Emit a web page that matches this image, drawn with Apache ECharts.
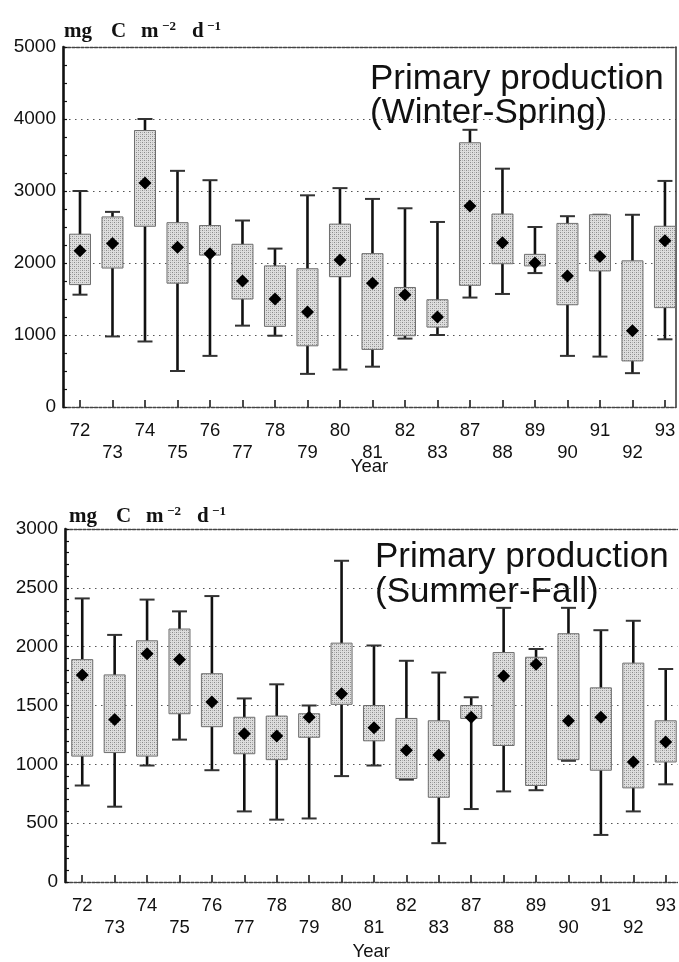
<!DOCTYPE html>
<html>
<head>
<meta charset="utf-8">
<title>Primary production</title>
<script src="https://cdn.jsdelivr.net/npm/echarts@6.0.0/dist/echarts.min.js"></script>
<style>
  html, body { margin: 0; padding: 0; background: #fff; }
  #chart { width: 679px; height: 962px; }
</style>
</head>
<body>
<div id="chart"></div>
<script>
// years on the category axis (1984-86 missing in the record)
const years = ['72', '73', '74', '75', '76', '77', '78', '79', '80', '81', '82', '83', '87', '88', '89', '90', '91', '92', '93'];

// Winter-Spring, mg C m-2 d-1
const wsMin  = [1560,  980,  910,  500,  710, 1130,  990,  460,  520,  560,  950, 1000, 1520, 1570, 1860,  710,  700,  470,  940];
const wsQ1   = [1700, 1930, 2510, 1720, 2110, 1500, 1120,  850, 1810,  800,  990, 1110, 1690, 1990, 1960, 1420, 1890,  640, 1380];
const wsMean = [2170, 2270, 3110, 2220, 2130, 1750, 1500, 1320, 2040, 1720, 1560, 1250, 2790, 2280, 2000, 1820, 2090, 1060, 2310];
const wsQ3   = [2400, 2640, 3840, 2560, 2520, 2260, 1960, 1920, 2540, 2130, 1660, 1490, 3670, 2680, 2120, 2550, 2670, 2030, 2510];
const wsMax  = [3000, 2710, 4000, 3280, 3150, 2590, 2200, 2940, 3040, 2890, 2760, 2570, 3850, 3310, 2500, 2650, 2670, 2670, 3140];

// Summer-Fall, mg C m-2 d-1
const sfMin  = [ 820,  640,  990, 1210,  950,  600,  530,  540,  900,  990,  870,  330,  620,  770,  780, 1030,  400,  600,  830];
const sfQ1   = [1070, 1100, 1070, 1430, 1320, 1090, 1040, 1230, 1510, 1200,  880,  720, 1390, 1160,  820, 1040,  950,  800, 1020];
const sfMean = [1760, 1380, 1940, 1890, 1530, 1260, 1240, 1400, 1600, 1310, 1120, 1080, 1400, 1750, 1850, 1370, 1400, 1020, 1190];
const sfQ3   = [1890, 1760, 2050, 2150, 1770, 1400, 1410, 1430, 2030, 1500, 1390, 1370, 1500, 1950, 1910, 2110, 1650, 1860, 1370];
const sfMax  = [2410, 2100, 2400, 2300, 2430, 1560, 1680, 1500, 2730, 2010, 1880, 1780, 1570, 2330, 1980, 2330, 2140, 2220, 1810];

const yearTicks = years.map((_, i) => i);

const INK = '#111';
const SANS = '"Liberation Sans", Arial, sans-serif';
const SERIF = '"Liberation Serif", "Times New Roman", serif';

// light dotted fill, like the screened boxes of the print
function stipple() {
  const c = document.createElement('canvas');
  c.width = 4; c.height = 4;
  const ctx = c.getContext('2d');
  ctx.fillStyle = '#dedede';
  ctx.fillRect(0, 0, 4, 4);
  ctx.fillStyle = '#8a8a8a';
  ctx.fillRect(0, 0, 1, 1);
  ctx.fillRect(2, 2, 1, 1);
  ctx.fillStyle = '#b4b4b4';
  ctx.fillRect(2, 0, 1, 1);
  ctx.fillRect(0, 2, 1, 1);
  return { image: c, repeat: 'repeat' };
}
const boxFill = stipple();

function boxRows(mins, q1s, means, q3s, maxs) {
  return years.map((_, i) => [i, mins[i], q1s[i], means[i], q3s[i], maxs[i]]);
}

function renderBox(params, api) {
  const x = api.value(0);
  const lo = api.coord([x, api.value(1)]);
  const q1 = api.coord([x, api.value(2)]);
  const mean = api.coord([x, api.value(3)]);
  const q3 = api.coord([x, api.value(4)]);
  const hi = api.coord([x, api.value(5)]);
  const cx = lo[0];
  const halfBox = 10.5, halfCap = 7.5, d = 6.5;
  const capStyle = { stroke: '#333', lineWidth: 2 };
  return {
    type: 'group',
    children: [
      { type: 'line', shape: { x1: cx, y1: lo[1], x2: cx, y2: hi[1] }, style: { stroke: INK, lineWidth: 2.6 } },
      { type: 'line', shape: { x1: cx - halfCap, y1: lo[1], x2: cx + halfCap, y2: lo[1] }, style: capStyle },
      { type: 'line', shape: { x1: cx - halfCap, y1: hi[1], x2: cx + halfCap, y2: hi[1] }, style: capStyle },
      {
        type: 'rect',
        shape: { x: cx - halfBox, y: q3[1], width: halfBox * 2, height: q1[1] - q3[1] },
        style: { fill: boxFill, stroke: '#6e6e6e', lineWidth: 1 }
      },
      {
        type: 'polygon',
        shape: { points: [[cx, mean[1] - d], [cx + d, mean[1]], [cx, mean[1] + d], [cx - d, mean[1]]] },
        style: { fill: '#000' }
      }
    ]
  };
}

function yearLabel(value) {
  const i = Math.round(value);
  return i % 2 ? '\n' + years[i] : years[i];
}

function bottomAxis(gridIndex, min, max, nameGap) {
  return {
    type: 'value', gridIndex, min, max,
    axisLine: { onZero: false, lineStyle: { color: '#444', width: 1.4, type: [3, 1.5] } },
    axisTick: { inside: true, length: 7, customValues: yearTicks, lineStyle: { color: INK, width: 1.5 } },
    axisLabel: {
      customValues: yearTicks, margin: 13, color: INK, fontFamily: SANS, fontSize: 18.5, lineHeight: 22,
      formatter: yearLabel
    },
    splitLine: { show: false },
    name: 'Year', nameLocation: 'middle', nameGap, nameMoveOverlap: false,
    nameTextStyle: { color: INK, fontFamily: SANS, fontSize: 18.5 }
  };
}

function topBorder(gridIndex, min, max) {
  return {
    type: 'value', gridIndex, min, max, position: 'top',
    axisLine: { onZero: false, lineStyle: { color: '#444', width: 1.4, type: [3, 1.5] } },
    axisTick: { show: false }, axisLabel: { show: false }, splitLine: { show: false }
  };
}

function valueAxis(gridIndex, max, interval, minorSplit) {
  return {
    type: 'value', gridIndex, min: 0, max, interval,
    axisLine: { show: true, onZero: false, lineStyle: { color: INK, width: 2.6 } },
    axisTick: { show: true, inside: true, length: 4, lineStyle: { color: INK, width: 1.2 } },
    minorTick: { show: true, splitNumber: minorSplit, length: 4, lineStyle: { color: INK, width: 1.2 } },
    axisLabel: { margin: 7, color: INK, fontFamily: SANS, fontSize: 19, formatter: v => String(v) },
    splitLine: { show: true, lineStyle: { color: '#555', width: 1.2, type: [1.5, 4.5] } }
  };
}

const unitText = '{a|mg}{b|C}{c|m}{s|\u22122}{d|d}{t|\u22121}';
function unitRich() {
  const base = { fontFamily: SERIF, fontWeight: 'bold', fontSize: 21, color: INK, lineHeight: 24 };
  const sup = { fontFamily: SERIF, fontWeight: 'bold', fontSize: 13, color: INK, lineHeight: 13, verticalAlign: 'top' };
  return {
    a: { ...base, width: 47 },
    b: { ...base, width: 30 },
    c: { ...base, width: 21 },
    s: { ...sup, width: 30 },
    d: { ...base, width: 15 },
    t: { ...sup }
  };
}

const chart = echarts.init(document.getElementById('chart'), null, { renderer: 'canvas' });
chart.setOption({
  animation: false,
  backgroundColor: '#fff',
  title: [
    { left: 59, top: 15, text: unitText, textStyle: { rich: unitRich() } },
    { left: 64, top: 500, text: unitText, textStyle: { rich: unitRich() } },
    {
      left: 365, top: 57, text: 'Primary production\n(Winter-Spring)',
      textStyle: { fontFamily: SANS, fontWeight: 'normal', fontSize: 35, lineHeight: 34, color: INK }
    },
    {
      left: 370, top: 535, text: 'Primary production\n(Summer-Fall)',
      textStyle: { fontFamily: SANS, fontWeight: 'normal', fontSize: 35, lineHeight: 35, color: INK }
    }
  ],
  grid: [
    { left: 63, top: 47, width: 613, height: 360 },
    { left: 65, top: 529, width: 614, height: 360 }
  ],
  xAxis: [
    bottomAxis(0, -0.523, 18.34, 50),
    topBorder(0, -0.523, 18.34),
    bottomAxis(1, -0.532, 18.36, 60),
    topBorder(1, -0.532, 18.36)
  ],
  yAxis: [
    valueAxis(0, 5000, 1000, 4),
    {
      type: 'value', gridIndex: 0, min: 0, max: 5000, position: 'right',
      axisLine: { show: true, onZero: false, lineStyle: { color: '#333', width: 1.5 } },
      axisTick: { show: false }, axisLabel: { show: false }, splitLine: { show: false }
    },
    valueAxis(1, 3000, 500, 5)
  ],
  series: [
    {
      name: 'Winter-Spring', type: 'custom', xAxisIndex: 0, yAxisIndex: 0,
      renderItem: renderBox, encode: { x: 0, y: [1, 2, 3, 4, 5] },
      data: boxRows(wsMin, wsQ1, wsMean, wsQ3, wsMax)
    },
    {
      name: 'Summer-Fall', type: 'custom', xAxisIndex: 2, yAxisIndex: 2,
      renderItem: renderBox, encode: { x: 0, y: [1, 2, 3, 4, 5] },
      data: boxRows(sfMin, sfQ1, sfMean, sfQ3, sfMax)
    }
  ]
});
</script>
</body>
</html>
